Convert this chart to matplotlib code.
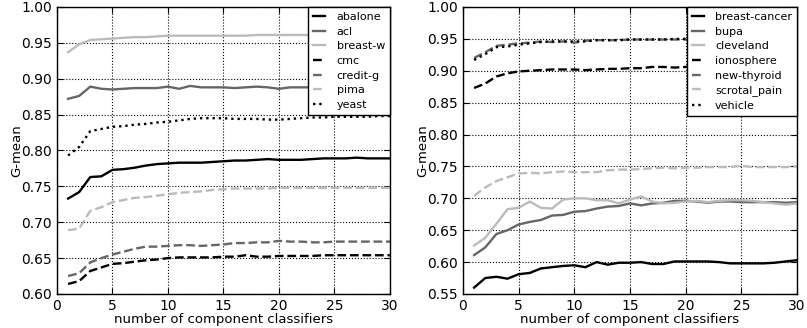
import matplotlib
matplotlib.use("Agg")
import matplotlib.pyplot as plt
import numpy as np

x = list(range(1, 31))

# Left panel
left_labels = ["abalone", "acl", "breast-w", "cmc", "credit-g", "pima", "yeast"]
abalone = [0.733, 0.742, 0.763, 0.764, 0.773, 0.774, 0.776, 0.779, 0.781, 0.782,
           0.783, 0.783, 0.783, 0.784, 0.785, 0.786, 0.786, 0.787, 0.788, 0.787,
           0.787, 0.787, 0.788, 0.789, 0.789, 0.789, 0.790, 0.789, 0.789, 0.789]
acl = [0.872, 0.876, 0.889, 0.886, 0.885, 0.886, 0.887, 0.887, 0.887, 0.889,
       0.886, 0.890, 0.888, 0.888, 0.888, 0.887, 0.888, 0.889, 0.888, 0.886,
       0.888, 0.888, 0.888, 0.888, 0.888, 0.888, 0.888, 0.888, 0.888, 0.888]
breast_w = [0.937, 0.948, 0.954, 0.955, 0.956, 0.957, 0.958, 0.958, 0.959, 0.960,
            0.960, 0.960, 0.960, 0.960, 0.960, 0.960, 0.960, 0.961, 0.961, 0.961,
            0.961, 0.961, 0.961, 0.961, 0.961, 0.961, 0.961, 0.961, 0.961, 0.961]
cmc = [0.614, 0.618, 0.632, 0.637, 0.642, 0.643, 0.645, 0.647, 0.648, 0.650,
       0.651, 0.651, 0.651, 0.651, 0.652, 0.652, 0.654, 0.652, 0.652, 0.653,
       0.653, 0.653, 0.653, 0.654, 0.654, 0.654, 0.654, 0.654, 0.654, 0.654]
credit_g = [0.625, 0.629, 0.644, 0.650, 0.655, 0.659, 0.663, 0.666, 0.666, 0.667,
            0.668, 0.668, 0.667, 0.668, 0.669, 0.671, 0.671, 0.672, 0.672, 0.674,
            0.673, 0.673, 0.672, 0.672, 0.673, 0.673, 0.673, 0.673, 0.673, 0.673]
pima = [0.689, 0.691, 0.716, 0.721, 0.728, 0.731, 0.734, 0.735, 0.737, 0.739,
        0.741, 0.742, 0.743, 0.745, 0.746, 0.747, 0.747, 0.747, 0.747, 0.748,
        0.748, 0.748, 0.748, 0.748, 0.748, 0.748, 0.748, 0.748, 0.748, 0.748]
yeast = [0.793, 0.805, 0.827, 0.830, 0.833, 0.834, 0.836, 0.837, 0.839, 0.840,
         0.842, 0.844, 0.845, 0.845, 0.845, 0.844, 0.844, 0.844, 0.843, 0.843,
         0.844, 0.845, 0.846, 0.846, 0.847, 0.847, 0.847, 0.847, 0.848, 0.848]

# Right panel
right_labels = ["breast-cancer", "bupa", "cleveland", "ionosphere",
                "new-thyroid", "scrotal_pain", "vehicle"]
breast_cancer = [0.560, 0.575, 0.577, 0.574, 0.581, 0.583, 0.590, 0.592, 0.594, 0.595,
                 0.592, 0.600, 0.596, 0.599, 0.599, 0.600, 0.597, 0.597, 0.601, 0.601,
                 0.601, 0.601, 0.600, 0.598, 0.598, 0.598, 0.598, 0.599, 0.601, 0.603]
bupa = [0.611, 0.623, 0.644, 0.650, 0.659, 0.663, 0.666, 0.673, 0.674, 0.679,
        0.680, 0.684, 0.687, 0.688, 0.692, 0.689, 0.692, 0.693, 0.696, 0.696,
        0.695, 0.693, 0.695, 0.695, 0.694, 0.694, 0.694, 0.694, 0.693, 0.694]
cleveland = [0.626, 0.638, 0.660, 0.683, 0.685, 0.695, 0.685, 0.684, 0.698, 0.700,
             0.700, 0.697, 0.697, 0.692, 0.698, 0.703, 0.695, 0.692, 0.693, 0.695,
             0.696, 0.694, 0.696, 0.697, 0.697, 0.696, 0.694, 0.692, 0.690, 0.692]
ionosphere = [0.873, 0.880, 0.891, 0.896, 0.899, 0.900, 0.901, 0.902, 0.902, 0.902,
              0.901, 0.902, 0.903, 0.903, 0.904, 0.904, 0.906, 0.906, 0.905, 0.906,
              0.906, 0.906, 0.906, 0.906, 0.906, 0.906, 0.906, 0.906, 0.906, 0.906]
new_thyroid = [0.920, 0.929, 0.939, 0.941, 0.943, 0.944, 0.946, 0.945, 0.946, 0.944,
               0.947, 0.948, 0.948, 0.948, 0.949, 0.949, 0.949, 0.949, 0.949, 0.949,
               0.949, 0.949, 0.949, 0.949, 0.949, 0.949, 0.949, 0.949, 0.949, 0.949]
scrotal_pain = [0.704, 0.717, 0.727, 0.733, 0.739, 0.740, 0.739, 0.741, 0.742, 0.741,
                0.741, 0.741, 0.744, 0.745, 0.745, 0.746, 0.747, 0.748, 0.747, 0.748,
                0.748, 0.749, 0.749, 0.749, 0.751, 0.749, 0.749, 0.749, 0.749, 0.750]
vehicle = [0.917, 0.926, 0.937, 0.938, 0.941, 0.943, 0.945, 0.946, 0.946, 0.946,
           0.946, 0.948, 0.948, 0.948, 0.949, 0.949, 0.949, 0.949, 0.950, 0.950,
           0.950, 0.950, 0.950, 0.950, 0.950, 0.950, 0.950, 0.950, 0.950, 0.950]

left_series = [abalone, acl, breast_w, cmc, credit_g, pima, yeast]
right_series = [breast_cancer, bupa, cleveland, ionosphere, new_thyroid, scrotal_pain, vehicle]

colors = ["black", "#666666", "#bbbbbb", "black", "#666666", "#bbbbbb", "black"]
styles = ["-", "-", "-", "--", "--", "--", ":"]

plt.rcParams["font.family"] = ["DejaVu Sans"]
fig = plt.figure(figsize=(8.07, 3.28), dpi=100, facecolor="white")

ax1 = fig.add_axes([0.0706, 0.1037, 0.4126, 0.875])
ax2 = fig.add_axes([0.5737, 0.1037, 0.4139, 0.875])

for ax, labels, series, ylim, yticks in [
        (ax1, left_labels, left_series, (0.60, 1.00), np.arange(0.60, 1.001, 0.05)),
        (ax2, right_labels, right_series, (0.55, 1.00), np.arange(0.55, 1.001, 0.05))]:
    for lab, ys, c, ls in zip(labels, series, colors, styles):
        ax.plot(x, ys, color=c, linestyle=ls, linewidth=1.7, label=lab)
    ax.set_xlim(0, 30)
    ax.set_ylim(*ylim)
    ax.set_xticks(range(0, 31, 5))
    ax.set_yticks(yticks)
    ax.set_yticklabels(["%.2f" % t for t in yticks])
    ax.grid(True, color="black", linestyle=":", linewidth=0.8)
    ax.tick_params(direction="in", top=True, right=True, labelsize=10, length=4)
    ax.set_xlabel("number of component classifiers", fontsize=9.5, labelpad=0)
    ax.set_ylabel("G-mean", fontsize=9.5, labelpad=-1)
    for sp in ax.spines.values():
        sp.set_linewidth(1.0)
    leg = ax.legend(loc="upper right", fontsize=8, frameon=True, fancybox=False,
                    borderaxespad=0, handlelength=1.1, handletextpad=1.0,
                    borderpad=0.45, labelspacing=0.42)
    leg.get_frame().set_edgecolor("black")
    leg.get_frame().set_linewidth(1.0)
    leg.get_frame().set_alpha(1.0)

fig.savefig("out.png", dpi=100, facecolor="white")
